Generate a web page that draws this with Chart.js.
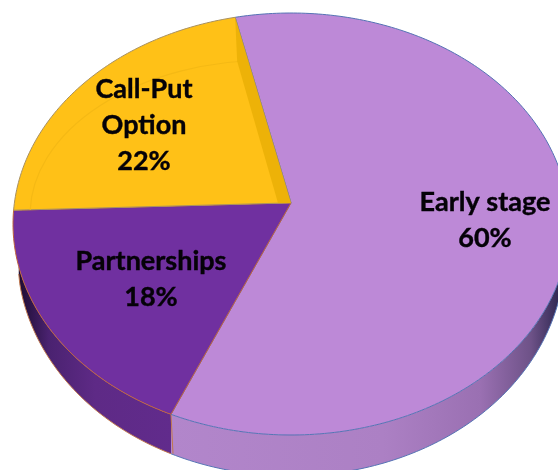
<!DOCTYPE html>
<html><head><meta charset="utf-8">
<style>html,body{margin:0;padding:0;background:#fff}canvas{display:block;filter:blur(0.45px)}</style>
<script src="https://cdn.jsdelivr.net/npm/chart.js@4/dist/chart.umd.js"></script>
</head><body><canvas id="c" width="558" height="470"></canvas>
<script>
const categories = ["Early stage", "Partnerships", "Call-Put Option"];
const shares = [60, 18, 22];
const labelLines = [["Early stage", "60%"], ["Partnerships", "18%"], ["Call-Put", "Option", "22%"]];
const sliceColors = ["#BD89D7", "#7030A0", "#FFC117"];
const edgeColors = ["#5573B4", "#C0633A", "#A89060"];

// tilted-disc projection
const CX = 291, CY = 224, RX = 278, RY = 211, D = -0.1, S = Math.sqrt(1 - D * D), DEPTH = 41;
function project(r, a) {
  const u = r * Math.cos(a), v = r * Math.sin(a), w = 1 + D * v;
  return [CX + RX * u * S / w, CY + RY * (v + D) / w];
}
function drop(y) {
  const t = Math.max(0, (y - CY) / RY - 0.2) / 0.8;
  return DEPTH * Math.pow(t, 0.3);
}
function rim(a0, a1) {
  const n = Math.max(2, Math.ceil((a1 - a0) * 60)), pts = [];
  for (let i = 0; i <= n; i++) pts.push(project(1, a0 + (a1 - a0) * i / n));
  return pts;
}
Chart.ArcElement.prototype.draw = function (ctx) {
  const o = this.options, pts = rim(this.startAngle, this.endAngle), c = project(0, 0);
  ctx.save();
  ctx.beginPath();
  ctx.moveTo(c[0], c[1]);
  pts.forEach(p => ctx.lineTo(p[0], p[1]));
  ctx.closePath();
  ctx.fillStyle = o.backgroundColor;
  ctx.fill();
  ctx.lineWidth = 1;
  ctx.strokeStyle = o.borderColor;
  ctx.stroke();
  ctx.restore();
};
const sideWalls = {
  id: "sideWalls",
  beforeDatasetsDraw(chart) {
    const ctx = chart.ctx, arcs = chart.getDatasetMeta(0).data;
    const g0 = ctx.createLinearGradient(170, 0, 558, 0);
    g0.addColorStop(0, "#B286CB"); g0.addColorStop(0.55, "#AC80C4"); g0.addColorStop(0.8, "#9A70B2");
    g0.addColorStop(0.93, "#6E5288"); g0.addColorStop(1, "#332A55");
    const g1 = ctx.createLinearGradient(18, 0, 172, 0);
    g1.addColorStop(0, "#1C0C30"); g1.addColorStop(0.2, "#4A2270"); g1.addColorStop(0.5, "#5E2A86"); g1.addColorStop(1, "#612B8C");
    const fills = [g0, g1, null], lines = ["#5573B4", "#C0784E", null];
    arcs.forEach((arc, i) => {
      if (!fills[i]) return;
      const top = rim(arc.startAngle, arc.endAngle).filter(p => drop(p[1]) > 0);
      ctx.beginPath();
      top.forEach((p, k) => k ? ctx.lineTo(p[0], p[1]) : ctx.moveTo(p[0], p[1]));
      top.slice().reverse().forEach(p => ctx.lineTo(p[0], p[1] + drop(p[1])));
      ctx.closePath();
      ctx.fillStyle = fills[i];
      ctx.fill();
      ctx.beginPath();
      top.forEach((p, k) => { const y = p[1] + drop(p[1]); k ? ctx.lineTo(p[0], y) : ctx.moveTo(p[0], y); });
      ctx.strokeStyle = lines[i];
      ctx.lineWidth = 1;
      ctx.stroke();
    });
    // seam between the two side walls
    const a = project(1, arcs[0].endAngle);
    ctx.beginPath();
    ctx.moveTo(a[0], a[1]);
    ctx.lineTo(a[0] + 2, a[1] + drop(a[1]));
    ctx.strokeStyle = "#C0784E";
    ctx.stroke();
  }
};
const sliceDetail = {
  id: "sliceDetail",
  afterDatasetsDraw(chart) {
    const ctx = chart.ctx, arc = chart.getDatasetMeta(0).data[2];
    const c = project(0, 0), e = project(1, arc.endAngle);
    ctx.save();
    ctx.beginPath();
    ctx.moveTo(c[0], c[1]);
    rim(arc.startAngle, arc.endAngle).forEach(p => ctx.lineTo(p[0], p[1]));
    ctx.closePath();
    ctx.clip();
    ctx.beginPath();
    ctx.ellipse(270, 215, 240, 155, 0, Math.PI, 1.5 * Math.PI);
    ctx.strokeStyle = "#F5B915";
    ctx.lineWidth = 1.2;
    ctx.stroke();
    ctx.beginPath();
    ctx.moveTo(c[0], c[1]);
    ctx.lineTo(e[0], e[1]);
    ctx.lineTo(e[0] + 2, e[1] + 44);
    ctx.lineTo(c[0] - 13, c[1]);
    ctx.closePath();
    ctx.fillStyle = "#EDB208";
    ctx.fill();
    ctx.restore();
  }
};
const sliceLabels = {
  id: "sliceLabels",
  afterDraw(chart) {
    const ctx = chart.ctx, anchors = [[485, 220], [151, 279], [144, 125]];
    ctx.save();
    ctx.font = "bold 27px Lato, 'Open Sans', sans-serif";
    ctx.fillStyle = "#050208";
    ctx.strokeStyle = "#050208";
    ctx.lineWidth = 0.4;
    ctx.textAlign = "center";
    ctx.textBaseline = "middle";
    labelLines.forEach((lines, i) => {
      lines.forEach((t, k) => {
        const y = anchors[i][1] + (k - (lines.length - 1) / 2) * 36;
        ctx.fillText(t, anchors[i][0], y);
        ctx.strokeText(t, anchors[i][0], y);
      });
    });
    ctx.restore();
  }
};
new Chart(document.getElementById("c"), {
  type: "pie",
  data: { labels: categories, datasets: [{ data: shares, backgroundColor: sliceColors, borderColor: edgeColors, borderWidth: 1 }] },
  options: {
    responsive: false, animation: false, rotation: -12.8,
    plugins: { legend: { display: false }, tooltip: { enabled: false } }
  },
  plugins: [sideWalls, sliceDetail, sliceLabels]
});
</script></body></html>
